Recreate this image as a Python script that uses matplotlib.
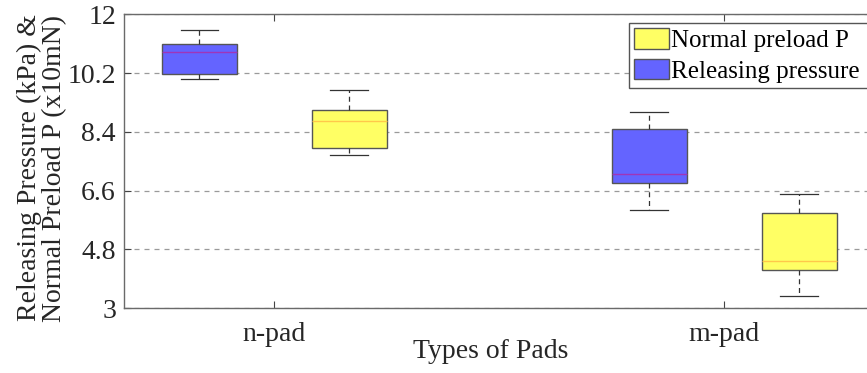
import matplotlib
matplotlib.use("Agg")
import matplotlib.pyplot as plt
from matplotlib.patches import Patch

categories = ["n-pad", "m-pad"]
series_names = ["Releasing pressure", "Normal preload P"]
# per series, per category: (whislo, q1, med, q3, whishi)
releasing = [(10.02, 10.18, 10.83, 11.08, 11.53),
             (6.01, 6.83, 7.11, 8.48, 9.02)]
preload = [(7.70, 7.90, 8.73, 9.08, 9.68),
           (3.36, 4.17, 4.44, 5.90, 6.49)]
yticks = [3, 4.8, 6.6, 8.4, 10.2, 12]

plt.rcParams['font.family'] = ['Liberation Serif', 'DejaVu Serif']

W, H = 867, 373
fig = plt.figure(figsize=(W / 100, H / 100), dpi=100)
left, right, top, bottom = 124.3, 874, 14.3, 308
ax = fig.add_axes([left / W, 1 - bottom / H, (right - left) / W, (bottom - top) / H])

def stats(vals):
    lo, q1, med, q3, hi = vals
    return dict(whislo=lo, q1=q1, med=med, q3=q3, whishi=hi, fliers=[])

pos = [1, 2]
off = 1 / 6
specs = [(releasing, -off, '#6464FF', '#A035B8'),
         (preload, off, '#FFFF64', '#FFC84A')]
for data, dx, fc, mc in specs:
    ax.bxp([stats(v) for v in data], positions=[p + dx for p in pos], widths=1 / 6,
           patch_artist=True, showfliers=False,
           boxprops=dict(facecolor=fc, edgecolor='#555555', linewidth=1.0),
           medianprops=dict(color=mc, linewidth=1.0),
           whiskerprops=dict(color='#333333', linestyle=(0, (4, 3)), linewidth=0.9),
           capprops=dict(color='#333333', linewidth=0.9),
           capwidths=1 / 12, manage_ticks=False, zorder=3)

ax.set_xlim(1 - 1 / 3, 2 + 1 / 3)
ax.set_ylim(3, 12)
ax.set_xticks(pos)
ax.set_xticklabels(categories, fontsize=20)
ax.set_yticks(yticks)
ax.set_yticklabels([f"{t:g}" for t in yticks], fontsize=20)
ax.yaxis.grid(True, linestyle=(0, (4, 4)), color='#9a9a9a', linewidth=0.9, zorder=0)
ax.set_axisbelow(True)
ax.tick_params(direction='in', top=True, right=False, length=5, color='#444444',
               labelcolor='#262626')
ax.tick_params(axis='x', pad=10)
ax.tick_params(axis='y', pad=6)
for s in ['left', 'bottom', 'top']:
    ax.spines[s].set_color('#6a6a6a')
    ax.spines[s].set_linewidth(1.0)
ax.spines['right'].set_visible(False)

ax.set_xlabel("Types of Pads", fontsize=20, color='#262626')
ax.xaxis.set_label_coords((491 - left) / (right - left), -(351 - bottom) / (bottom - top))
ax.xaxis.label.set_va('center')
ax.set_ylabel("Releasing Pressure (kPa) &\nNormal Preload P (x10mN)", fontsize=20,
              color='#262626', linespacing=1.0)
ax.yaxis.set_label_coords(-(left - 67) / (right - left), (bottom - 168) / (bottom - top))

handles = [Patch(facecolor='#FFFF64', edgecolor='#555555', label='Normal preload P '),
           Patch(facecolor='#6464FF', edgecolor='#555555', label='Releasing pressure ')]
leg = ax.legend(handles=handles, loc='upper right', fontsize=18, frameon=True,
                fancybox=False, edgecolor='#555555', framealpha=1,
                bbox_to_anchor=((871 - left) / (right - left), (bottom - 23.3) / (bottom - top)),
                handlelength=1.4, handleheight=0.9, handletextpad=0.1,
                borderpad=0.2, labelspacing=0.25, borderaxespad=0)
leg.get_frame().set_linewidth(1.0)

fig.savefig("out.png", dpi=100)
